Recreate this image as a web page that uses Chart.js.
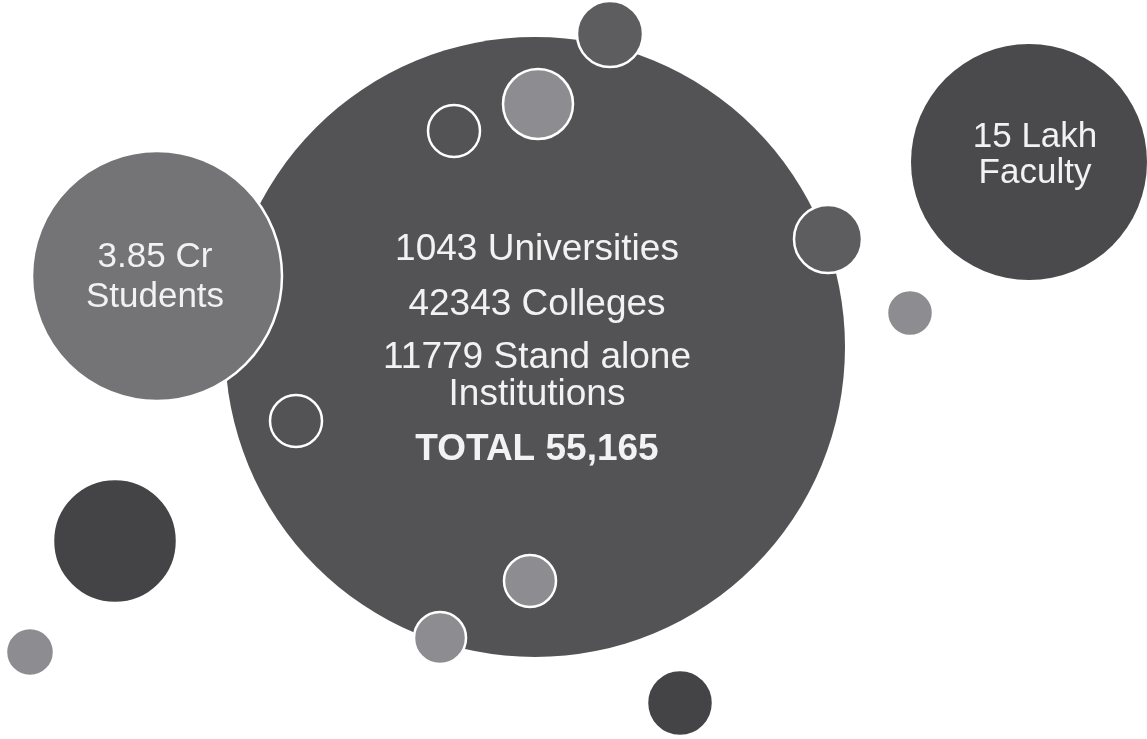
<!DOCTYPE html>
<html>
<head>
<meta charset="utf-8">
<title>Higher education in numbers</title>
<script src="https://cdn.jsdelivr.net/npm/chart.js@4.4.1/dist/chart.umd.min.js"></script>
<style>
  html, body { margin: 0; padding: 0; background: #ffffff; }
  #wrap { width: 1147px; height: 739px; position: relative; }
</style>
</head>
<body>
<div id="wrap"><canvas id="bubbleChart"></canvas></div>
<script>
// Big labelled bubbles
const bigNames = ['Institutions', 'Students', 'Faculty'];
const bigX = [535, 157, 1029];
const bigY = [347, 276, 162];
const bigR = [310, 125, 118];

// Text inside the big bubbles
const institutionLines = ['1043 Universities', '42343 Colleges', '11779 Stand alone', 'Institutions', 'TOTAL 55,165'];
const studentLines = ['3.85 Cr', 'Students'];
const facultyLines = ['15 Lakh', 'Faculty'];

// Small decorative bubbles
const smallX = [610, 538, 454, 828, 910, 296, 530, 440, 680, 115, 30];
const smallY = [34, 104, 131, 239, 313, 421, 581, 638, 703, 541, 652];
const smallR = [33, 35, 26, 34, 23, 26, 26, 26, 33, 62, 24];
const smallTone = ['mid', 'light', 'hollow', 'mid', 'light', 'hollow', 'light', 'light', 'dark', 'dark', 'light'];

const toneColors = {
    main: '#535355',
    students: '#747476',
    faculty: '#4a4a4c',
    mid: '#5d5d5f',
    light: '#8d8d91',
    dark: '#444446',
    hollow: '#535355'
};

function pts(xs, ys, rs) {
    return xs.map((x, i) => ({ x: x, y: ys[i], r: rs[i] }));
}

// label layout: line offsets from the bubble centre (baseline)
const labelSets = [
    { dataset: 2, index: 0, lines: institutionLines, dx: 2, dy: [-87, -32, 21, 58, 113], bold: [false, false, false, false, true], size: 37 },
    { dataset: 1, index: 0, lines: studentLines, dx: -2, dy: [-9, 31], bold: [false, false], size: 35 },
    { dataset: 3, index: 0, lines: facultyLines, dx: 6, dy: [-15, 21], bold: [false, false], size: 35 }
];

const labelPlugin = {
    id: 'bubbleLabels',
    afterDatasetsDraw(chart) {
        const ctx = chart.ctx;
        ctx.save();
        ctx.fillStyle = '#f2f2f2';
        ctx.textAlign = 'center';
        ctx.textBaseline = 'alphabetic';
        labelSets.forEach(set => {
            const el = chart.getDatasetMeta(set.dataset).data[set.index];
            set.lines.forEach((line, i) => {
                ctx.font = (set.bold[i] ? 'bold ' : '') + set.size + 'px "Liberation Sans", Arial, sans-serif';
                ctx.fillText(line, el.x + set.dx, el.y + set.dy[i]);
            });
        });
        ctx.restore();
    }
};

window.onload = function() {
    const ctx = document.getElementById('bubbleChart').getContext('2d');
    new Chart(ctx, {
        type: 'bubble',
        data: {
            datasets: [
                {
                    label: 'small',
                    data: pts(smallX, smallY, smallR),
                    backgroundColor: smallTone.map(t => toneColors[t]),
                    borderColor: '#ffffff',
                    borderWidth: 2.5,
                    order: 1,
                    clip: false
                },
                {
                    label: bigNames[1],
                    data: [{ x: bigX[1], y: bigY[1], r: bigR[1] }],
                    backgroundColor: toneColors.students,
                    borderColor: '#ffffff',
                    borderWidth: 2.5,
                    order: 2,
                    clip: false
                },
                {
                    label: bigNames[0],
                    data: [{ x: bigX[0], y: bigY[0], r: bigR[0] }],
                    backgroundColor: toneColors.main,
                    borderWidth: 0,
                    order: 3,
                    clip: false
                },
                {
                    label: bigNames[2],
                    data: [{ x: bigX[2], y: bigY[2], r: bigR[2] }],
                    backgroundColor: toneColors.faculty,
                    borderWidth: 0,
                    order: 3,
                    clip: false
                }
            ]
        },
        options: {
            responsive: true,
            maintainAspectRatio: false,
            animation: false,
            events: [],
            // bubbles are placed in page units, so no automatic padding for radii
            layout: { padding: 0, autoPadding: false },
            plugins: {
                legend: { display: false },
                tooltip: { enabled: false }
            },
            scales: {
                x: { type: 'linear', min: 0, max: 1147, display: false },
                y: { type: 'linear', min: 0, max: 739, reverse: true, display: false }
            }
        },
        plugins: [labelPlugin]
    });
};
</script>
</body>
</html>
